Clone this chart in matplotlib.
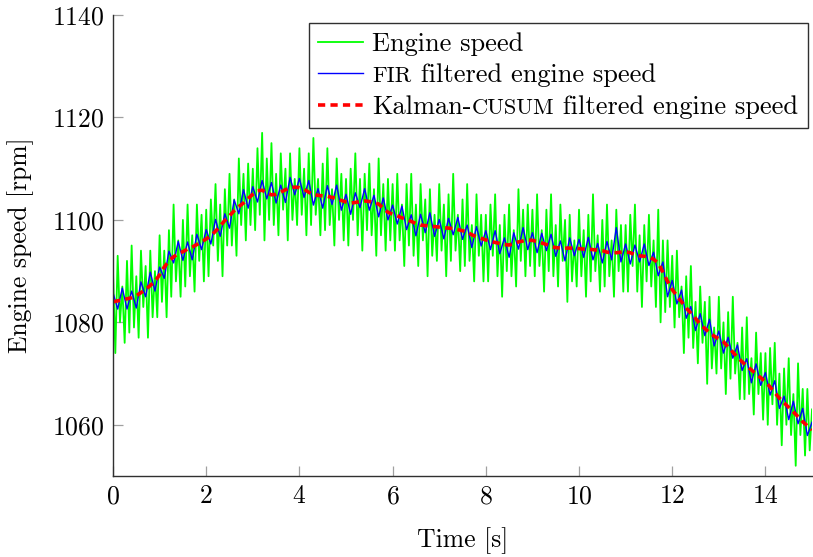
import numpy as np
import matplotlib
matplotlib.use("Agg")
import matplotlib.pyplot as plt
from matplotlib.offsetbox import TextArea, HPacker

plt.rcParams['font.family'] = ['cmr10', 'DejaVu Serif']
plt.rcParams['mathtext.fontset'] = 'cm'
plt.rcParams['axes.formatter.use_mathtext'] = True

# raw engine speed, 0.05 s samples (rpm)
t_raw = np.linspace(0, 15, 301)
speed_raw = [
    1090, 1074, 1093, 1080, 1087, 1076, 1092, 1078, 1095, 1079, 1089, 1077, 1094, 1083, 1091, 1077, 1094, 1081, 1090, 1081,
    1097, 1084, 1094, 1081, 1098, 1085, 1103, 1088, 1096, 1085, 1100, 1087, 1103, 1089, 1097, 1086, 1103, 1092, 1101, 1088,
    1102, 1089, 1104, 1095, 1107, 1092, 1103, 1089, 1106, 1095, 1109, 1095, 1104, 1093, 1112, 1099, 1109, 1096, 1111, 1099,
    1110, 1098, 1114, 1101, 1117, 1096, 1112, 1100, 1115, 1099, 1109, 1097, 1113, 1102, 1110, 1096, 1113, 1100, 1108, 1099,
    1114, 1101, 1110, 1097, 1113, 1099, 1116, 1101, 1108, 1097, 1111, 1098, 1114, 1099, 1106, 1095, 1112, 1100, 1109, 1096,
    1108, 1095, 1110, 1100, 1113, 1097, 1108, 1094, 1109, 1098, 1111, 1097, 1106, 1093, 1112, 1097, 1107, 1094, 1108, 1096,
    1107, 1094, 1109, 1096, 1103, 1091, 1107, 1095, 1109, 1093, 1103, 1091, 1107, 1096, 1104, 1089, 1106, 1093, 1101, 1092,
    1107, 1094, 1103, 1089, 1105, 1092, 1109, 1094, 1101, 1090, 1104, 1091, 1107, 1092, 1099, 1088, 1105, 1093, 1101, 1088,
    1101, 1088, 1103, 1093, 1105, 1089, 1099, 1085, 1101, 1090, 1103, 1089, 1098, 1087, 1106, 1092, 1102, 1089, 1103, 1091,
    1102, 1089, 1105, 1091, 1098, 1086, 1102, 1090, 1105, 1089, 1099, 1087, 1103, 1092, 1100, 1084, 1101, 1088, 1096, 1087,
    1102, 1089, 1098, 1085, 1101, 1088, 1105, 1090, 1097, 1086, 1100, 1087, 1103, 1089, 1096, 1085, 1102, 1090, 1099, 1086,
    1099, 1086, 1101, 1091, 1103, 1086, 1097, 1083, 1099, 1088, 1101, 1087, 1096, 1083, 1102, 1080, 1096, 1082, 1096, 1083,
    1093, 1079, 1094, 1081, 1087, 1074, 1089, 1077, 1091, 1075, 1084, 1072, 1087, 1076, 1084, 1068, 1085, 1071, 1079, 1070,
    1085, 1071, 1080, 1066, 1082, 1069, 1085, 1070, 1076, 1065, 1079, 1065, 1081, 1066, 1073, 1062, 1078, 1066, 1074, 1061,
    1074, 1060, 1075, 1064, 1076, 1060, 1070, 1056, 1071, 1060, 1073, 1058, 1066, 1052, 1072, 1058, 1067, 1054, 1067, 1055,
    1063,
]

# FIR filtered, 0.1 s samples
t_fir = np.linspace(0, 15, 151)
speed_fir = [
    1085.8, 1082.6, 1086.7, 1082.6, 1086.1, 1082.8, 1087.9, 1085.0, 1089.8, 1086.1,
    1090.8, 1088.6, 1093.9, 1091.6, 1095.8, 1092.1, 1095.7, 1092.2, 1097.2, 1094.2,
    1098.1, 1095.3, 1100.1, 1096.8, 1101.2, 1098.4, 1103.9, 1101.2, 1105.9, 1102.3,
    1106.5, 1103.5, 1107.7, 1104.1, 1107.3, 1103.3, 1106.8, 1103.4, 1108.3, 1104.9,
    1108.1, 1104.4, 1107.7, 1102.9, 1106.1, 1102.3, 1106.7, 1103.0, 1106.8, 1101.9,
    1105.0, 1101.1, 1105.3, 1102.4, 1106.1, 1101.9, 1104.8, 1100.6, 1104.3, 1100.0,
    1102.9, 1099.2, 1102.7, 1098.1, 1101.0, 1096.9, 1101.1, 1097.5, 1101.4, 1096.8,
    1100.1, 1096.3, 1100.3, 1097.1, 1100.5, 1096.2, 1099.0, 1094.6, 1098.7, 1094.9,
    1097.9, 1094.2, 1097.9, 1093.4, 1096.5, 1092.7, 1097.5, 1094.3, 1098.5, 1094.2,
    1097.5, 1093.6, 1097.4, 1094.0, 1097.2, 1092.9, 1095.9, 1092.0, 1096.5, 1093.0,
    1096.2, 1092.7, 1096.6, 1092.2, 1095.4, 1091.6, 1095.8, 1092.2, 1098.5, 1091.8,
    1095.3, 1091.4, 1095.1, 1091.8, 1095.3, 1091.1, 1093.7, 1089.1, 1091.8, 1085.0,
    1088.2, 1083.6, 1086.3, 1080.8, 1083.1, 1078.4, 1081.7, 1077.4, 1080.6, 1075.4,
    1078.3, 1074.0, 1077.1, 1073.0, 1075.6, 1070.6, 1072.9, 1068.2, 1071.9, 1067.7,
    1070.2, 1065.8, 1068.6, 1063.2, 1065.6, 1061.0, 1064.6, 1060.2, 1063.2, 1057.9,
    1060.5,
]

# Kalman-CUSUM filtered, 0.1 s samples
t_kal = np.linspace(0, 15, 151)
speed_kal = [
    1084.0, 1084.2, 1084.4, 1084.6, 1084.8, 1085.2, 1085.8, 1086.4, 1087.2, 1088.0,
    1089.3, 1090.8, 1092.0, 1092.8, 1093.4, 1093.8, 1094.3, 1094.7, 1095.2, 1095.7,
    1096.3, 1096.9, 1097.8, 1098.8, 1099.9, 1100.8, 1101.8, 1102.6, 1103.3, 1104.2,
    1105.0, 1105.7, 1105.8, 1105.3, 1104.9, 1105.0, 1105.4, 1105.9, 1106.3, 1106.4,
    1106.3, 1106.0, 1105.4, 1104.9, 1104.8, 1104.7, 1104.6, 1104.4, 1104.2, 1103.8,
    1103.5, 1103.3, 1103.4, 1103.6, 1103.7, 1103.6, 1103.4, 1103.1, 1102.3, 1101.5,
    1101.1, 1100.8, 1100.4, 1100.1, 1099.7, 1099.3, 1099.0, 1098.9, 1098.8, 1098.7,
    1098.6, 1098.5, 1098.4, 1098.3, 1098.1, 1097.9, 1097.6, 1097.1, 1096.7, 1096.4,
    1096.1, 1095.8, 1095.6, 1095.4, 1095.2, 1095.1, 1095.4, 1095.7, 1095.9, 1096.1,
    1096.0, 1095.8, 1095.5, 1095.2, 1094.8, 1094.6, 1094.5, 1094.5, 1094.5, 1094.5,
    1094.4, 1094.3, 1094.3, 1094.2, 1094.1, 1094.0, 1093.7, 1093.6, 1093.6, 1093.7,
    1093.8, 1093.6, 1093.2, 1093.0, 1092.9, 1092.8, 1092.3, 1091.6, 1089.8, 1088.0,
    1086.4, 1085.2, 1084.0, 1082.8, 1081.8, 1080.8, 1079.6, 1078.8, 1078.0, 1077.3,
    1076.8, 1076.2, 1075.2, 1074.2, 1073.2, 1072.3, 1071.5, 1070.7, 1069.9, 1069.2,
    1068.4, 1067.4, 1066.3, 1065.2, 1064.3, 1063.4, 1062.5, 1061.6, 1060.6, 1059.8,
    1059.0,
]

x_ticks = [0, 2, 4, 6, 8, 10, 12, 14]
y_ticks = [1060, 1080, 1100, 1120, 1140]

fs = 18.5
fs_leg = 19

fig = plt.figure(figsize=(8.13, 5.57), dpi=100)
ax = fig.add_axes([0.139, 0.1454, 0.8598, 0.8276])

ax.plot(t_raw, speed_raw, color='#00ff00', lw=1.3, label='Engine speed')
ax.plot(t_fir, speed_fir, color='#0000ff', lw=1.0, label='FIR filtered engine speed')
ax.plot(t_kal, speed_kal, color='#ff0000', lw=2.6, ls=(0, (2.0, 1.45)),
        dash_capstyle='butt', label='Kalman-CUSUM filtered engine speed')

ax.set_xlim(0, 15)
ax.set_ylim(1050, 1140)
ax.set_xticks(x_ticks)
ax.set_yticks(y_ticks)
ax.tick_params(direction='in', length=7.5, width=0.9, color='#a0a0a0',
               labelsize=fs, pad=6)
for side in ['top', 'right']:
    ax.spines[side].set_visible(False)
for side in ['left', 'bottom']:
    ax.spines[side].set_color('#303030')
    ax.spines[side].set_linewidth(1.0)

ax.set_xlabel('Time [s]', fontsize=fs, labelpad=14)
ax.set_ylabel('Engine speed [rpm]', fontsize=fs, labelpad=13)

leg = ax.legend(loc='upper right', bbox_to_anchor=(0.994, 0.983), borderaxespad=0,
                fontsize=fs_leg, frameon=True, fancybox=False, framealpha=1,
                handlelength=1.7, handletextpad=0.35, labelspacing=0.3,
                borderpad=0.35)
leg.get_frame().set_edgecolor('#303030')
leg.get_frame().set_linewidth(1.0)

# small caps for FIR / CUSUM in the legend
sc = fs_leg * 0.85
rows = leg._legend_handle_box.get_children()[0].get_children()
parts = {
    1: [('FIR', sc), (' filtered engine speed', fs_leg)],
    2: [('Kalman-', fs_leg), ('CUSUM', sc), (' filtered engine speed', fs_leg)],
}
for i, pieces in parts.items():
    boxes = [TextArea(s, textprops=dict(fontsize=size, family=['cmr10', 'DejaVu Serif']))
             for s, size in pieces]
    packed = HPacker(children=boxes, pad=0, sep=0, align='baseline')
    packed.set_figure(fig)
    rows[i].get_children()[1] = packed

fig.savefig('out.png', dpi=100)
